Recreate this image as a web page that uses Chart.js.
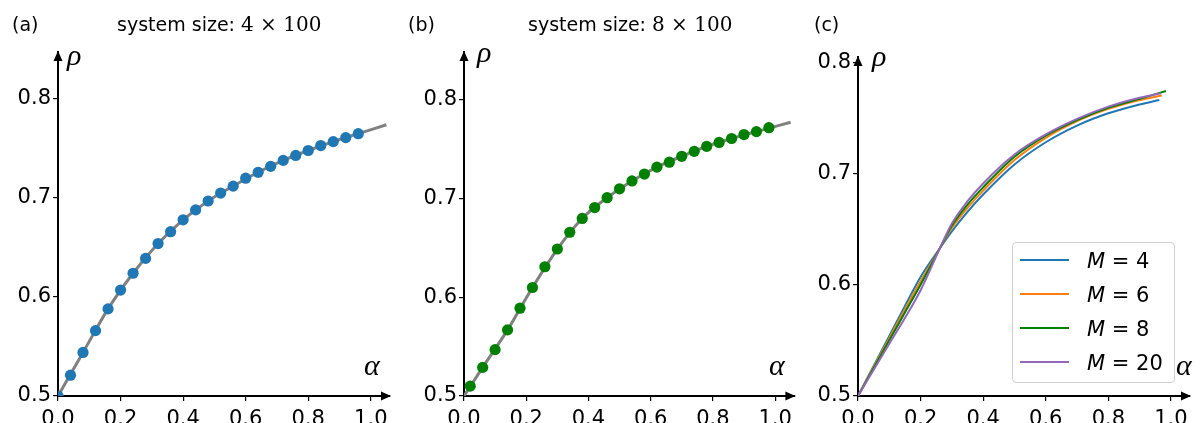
<!DOCTYPE html>
<html>
<head>
<meta charset="utf-8">
<script src="https://cdn.jsdelivr.net/npm/chart.js@4.4.1/dist/chart.umd.min.js"></script>
<style>
  body { margin: 0; width: 1201px; height: 423px; position: relative; background: #fff; overflow: hidden; }
  canvas { position: absolute; top: 0; }
  .lbl { position: absolute; white-space: nowrap; line-height: 1; color: #000; }
  .sans { font-family: 'DejaVu Sans', sans-serif; font-size: 19px; }
  .num { font-family: 'DejaVu Serif', serif; font-size: 20px; }
  .sym { font-family: 'Liberation Serif', serif; font-style: italic; font-size: 30px; }
  #legend { position: absolute; left: 1012px; top: 242px; width: 163px; height: 141px; box-sizing: border-box;
            border: 1px solid #d0d0d0; border-radius: 4px; background: rgba(255,255,255,0.8); }
  .row { position: absolute; left: 0; width: 100%; height: 0; }
  .row .ln { position: absolute; left: 7px; top: -1px; width: 49px; height: 2px; }
  .row .tx { position: absolute; left: 74px; top: -9px; font-family: 'DejaVu Sans', sans-serif; font-size: 21px; line-height: 1; white-space: nowrap; }
</style>
</head>
<body>
<canvas id="ca" width="400" height="423" style="left:0px"></canvas>
<canvas id="cb" width="400" height="423" style="left:400px"></canvas>
<canvas id="cc" width="401" height="423" style="left:800px"></canvas>

<div class="lbl sans" style="left:12px; top:15px">(a)</div>
<div class="lbl sans" style="left:117px; top:14px">system size: <span class="num">4 × 100</span></div>
<div class="lbl sans" style="left:408px; top:15px">(b)</div>
<div class="lbl sans" style="left:528px; top:14px">system size: <span class="num">8 × 100</span></div>
<div class="lbl sans" style="left:814px; top:15px">(c)</div>

<div class="lbl sym" style="left:67px; top:40px">ρ</div>
<div class="lbl sym" style="left:364px; top:350px">α</div>
<div class="lbl sym" style="left:477px; top:37px">ρ</div>
<div class="lbl sym" style="left:769px; top:350px">α</div>
<div class="lbl sym" style="left:872px; top:41px">ρ</div>

<div id="legend"></div>
<div class="lbl sym" style="left:1176px; top:350px">α</div>

<script>
// panel (a): system size 4 x 100
const alphaA = [0, 0.04, 0.08, 0.12, 0.16, 0.20, 0.24, 0.28, 0.32, 0.36, 0.40, 0.44, 0.48,
                0.52, 0.56, 0.60, 0.64, 0.68, 0.72, 0.76, 0.80, 0.84, 0.88, 0.92, 0.96];
const rhoA = [0.500, 0.521, 0.544, 0.566, 0.588, 0.607, 0.624, 0.639, 0.654, 0.666, 0.678, 0.688, 0.697,
              0.705, 0.712, 0.720, 0.726, 0.732, 0.738, 0.743, 0.748, 0.753, 0.757, 0.761, 0.765];
const curveAlphaA = [0, 0.08, 0.16, 0.24, 0.32, 0.40, 0.48, 0.56, 0.64, 0.72, 0.80, 0.88, 0.96, 1.05];
const curveRhoA = [0.500, 0.544, 0.588, 0.624, 0.654, 0.678, 0.697, 0.712, 0.726, 0.738, 0.748, 0.757, 0.765, 0.774];

// panel (b): system size 8 x 100
const alphaB = [0.02, 0.06, 0.10, 0.14, 0.18, 0.22, 0.26, 0.30, 0.34, 0.38, 0.42, 0.46, 0.50,
                0.54, 0.58, 0.62, 0.66, 0.70, 0.74, 0.78, 0.82, 0.86, 0.90, 0.94, 0.98];
const rhoB = [0.510, 0.529, 0.547, 0.567, 0.589, 0.610, 0.631, 0.649, 0.666, 0.680, 0.691, 0.701, 0.710,
              0.718, 0.725, 0.732, 0.737, 0.743, 0.748, 0.753, 0.757, 0.761, 0.765, 0.768, 0.772];
const curveAlphaB = [0, 0.06, 0.14, 0.22, 0.30, 0.38, 0.46, 0.54, 0.62, 0.70, 0.78, 0.86, 0.94, 1.05];
const curveRhoB = [0.500, 0.529, 0.567, 0.610, 0.649, 0.680, 0.701, 0.718, 0.732, 0.743, 0.753, 0.761, 0.768, 0.7775];

// panel (c): different M
const alphaC = [0, 0.10, 0.15, 0.20, 0.262, 0.30, 0.35, 0.40, 0.50, 0.60, 0.70, 0.80, 0.90];
const rhoM4  = [0.5, 0.554, 0.581, 0.607, 0.633, 0.648, 0.6655, 0.681, 0.708, 0.728, 0.743, 0.754, 0.762];
const rhoM6  = [0.5, 0.552, 0.578, 0.603, 0.633, 0.651, 0.669, 0.6845, 0.712, 0.732, 0.747, 0.758, 0.766];
const rhoM8  = [0.5, 0.550, 0.575, 0.600, 0.633, 0.653, 0.672, 0.6875, 0.715, 0.734, 0.748, 0.759, 0.767];
const rhoM20 = [0.5, 0.547, 0.570, 0.595, 0.633, 0.655, 0.675, 0.691, 0.717, 0.735, 0.749, 0.760, 0.768];
const endAlphaC = [0.963, 0.971, 0.984, 0.968];
const endRhoC = [0.766, 0.770, 0.774, 0.772];
const labelsC = ['4', '6', '8', '20'];
const colorsC = ['#1f77b4', '#ff7f0e', '#008000', '#9467bd'];

const xTicks = [0, 0.2, 0.4, 0.6, 0.8, 1.0];
const yTicks = [0.5, 0.6, 0.7, 0.8];

function pts(xs, ys) {
    return xs.map((x, i) => ({ x: x, y: ys[i] }));
}

// arrow heads at the ends of the two axes
const axisArrows = {
    id: 'axisArrows',
    afterDraw(chart) {
        const { ctx, chartArea: a } = chart;
        ctx.save();
        ctx.fillStyle = '#000';
        ctx.beginPath();
        ctx.moveTo(a.right + 1, a.bottom);
        ctx.lineTo(a.right - 9, a.bottom - 4.5);
        ctx.lineTo(a.right - 9, a.bottom + 4.5);
        ctx.closePath();
        ctx.fill();
        ctx.beginPath();
        ctx.moveTo(a.left, a.top - 1);
        ctx.lineTo(a.left - 4.5, a.top + 9);
        ctx.lineTo(a.left + 4.5, a.top + 9);
        ctx.closePath();
        ctx.fill();
        ctx.restore();
    }
};

function makePanel(id, datasets, yMax, yWidth, pad) {
    const tickFont = { family: 'DejaVu Sans', size: 21 };
    return new Chart(document.getElementById(id), {
        type: 'scatter',
        data: { datasets: datasets },
        options: {
            responsive: false,
            animation: false,
            layout: { padding: { left: 0, top: pad.top, right: pad.right, bottom: 0 } },
            plugins: { legend: { display: false }, tooltip: { enabled: false } },
            scales: {
                x: {
                    type: 'linear', min: 0, max: pad.xMax,
                    afterBuildTicks: s => { s.ticks = xTicks.map(v => ({ value: v })); },
                    afterFit: s => { s.height = 27; },
                    ticks: { font: tickFont, color: '#000', padding: 6, autoSkip: false, maxRotation: 0,
                             callback: v => v.toFixed(1) },
                    grid: { drawOnChartArea: false, drawTicks: true, tickLength: 5, color: '#000', lineWidth: 1.2 },
                    border: { display: true, color: '#000', width: 2 }
                },
                y: {
                    type: 'linear', min: 0.5, max: yMax,
                    afterBuildTicks: s => { s.ticks = yTicks.map(v => ({ value: v })); },
                    afterFit: s => { s.width = yWidth; },
                    ticks: { font: tickFont, color: '#000', padding: 2, autoSkip: false,
                             callback: v => v.toFixed(1) },
                    grid: { drawOnChartArea: false, drawTicks: true, tickLength: 5, color: '#000', lineWidth: 1.2 },
                    border: { display: true, color: '#000', width: 2 }
                }
            }
        },
        plugins: [axisArrows]
    });
}

function dotSet(xs, ys, color) {
    return { data: pts(xs, ys), showLine: false, pointRadius: 5.6, pointBorderWidth: 0,
             pointBackgroundColor: color, pointBorderColor: color, order: 1 };
}
function curveSet(xs, ys, color, width, order) {
    return { data: pts(xs, ys), showLine: true, pointRadius: 0, borderColor: color, borderWidth: width,
             cubicInterpolationMode: 'monotone', order: order };
}

makePanel('ca', [
    dotSet(alphaA, rhoA, '#1f77b4'),
    curveSet(curveAlphaA, curveRhoA, '#808080', 3, 2)
], 0.8475, 58, { top: 52, right: 10, xMax: 1.0614 });

makePanel('cb', [
    dotSet(alphaB, rhoB, '#008000'),
    curveSet(curveAlphaB, curveRhoB, '#808080', 3, 2)
], 0.8487, 64, { top: 52, right: 2, xMax: 1.062 });

const seriesC = [rhoM4, rhoM6, rhoM8, rhoM20];
makePanel('cc', seriesC.map((r, i) =>
    curveSet(alphaC.concat([endAlphaC[i]]), r.concat([endRhoC[i]]), colorsC[i], 2, 4 - i)
), 0.8046, 58, { top: 57, right: 11, xMax: 1.061 });

// legend for panel (c)
const legend = document.getElementById('legend');
const rowY = [17, 51, 85, 119];
labelsC.forEach((m, i) => {
    const row = document.createElement('div');
    row.className = 'row';
    row.style.top = rowY[i] + 'px';
    row.innerHTML = '<div class="ln" style="background:' + colorsC[i] + '"></div>' +
                    '<div class="tx"><i>M</i> = ' + m + '</div>';
    legend.appendChild(row);
});
</script>
</body>
</html>
